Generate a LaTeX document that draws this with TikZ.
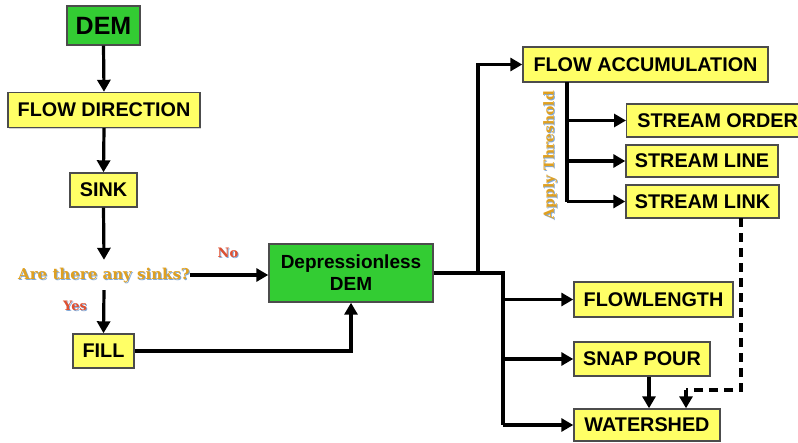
\documentclass[tikz,border=0pt]{standalone}
\usepackage{fontspec}
\setmainfont{Liberation Sans}
\newfontfamily\qfont{DejaVu Serif}
\usetikzlibrary{arrows.meta,shadows,calc}
\definecolor{boxyellow}{HTML}{FFFF66}
\definecolor{boxgreen}{HTML}{33CC33}
\definecolor{qorange}{HTML}{E0A020}
\definecolor{lred}{HTML}{E05030}
\definecolor{shblue}{HTML}{7FA8D8}
\tikzset{
  box/.style={draw=black!70, line width=1.4pt, fill=boxyellow, inner sep=0pt,
    font=\bfseries\fontsize{19.8pt}{22pt}\selectfont,
    drop shadow={shadow xshift=1.2pt, shadow yshift=-1.2pt, fill=black!35}},
  gbox/.style={box, fill=boxgreen},
  conn/.style={line width=3.2pt, -{Triangle[length=12pt,width=13pt]}},
  plain/.style={line width=3.2pt},
  qtext/.style={font=\qfont\bfseries\fontsize{15pt}{17pt}\selectfont, inner sep=0pt},
  lab/.style={qtext, font=\qfont\bfseries\fontsize{13pt}{15pt}\selectfont},
}
\begin{document}
\begin{tikzpicture}[x=1pt,y=-1pt]
\useasboundingbox (0,0) rectangle (798,442);
% nodes
\node[gbox, minimum width=73pt, minimum height=39pt, font=\bfseries\fontsize{25pt}{27pt}\selectfont] (dem) at (103.5,25.5) {DEM};
\node[box, minimum width=192pt, minimum height=35pt] (fd) at (104,110) {FLOW DIRECTION};
\node[box, minimum width=67pt, minimum height=34pt] (sink) at (103.5,190) {SINK};
\node[qtext, text=shblue] (qs) at (105,276) {Are there any sinks?};
\node[qtext, text=qorange, minimum height=30pt] (q) at (104,275) {Are there any sinks?};
\node[box, minimum width=61pt, minimum height=34pt] (fill) at (103.5,351) {FILL};
\node[gbox, minimum width=164pt, minimum height=58pt, align=center, font=\bfseries\fontsize{19pt}{22pt}\selectfont] (dd) at (351,273) {Depressionless\\DEM};
\node[box, minimum width=245pt, minimum height=35pt] (fa) at (645.5,64.5) {FLOW ACCUMULATION};
\node[box, minimum width=174pt, minimum height=33pt, anchor=west] (so) at (626,120.5) {\hspace*{8pt}STREAM ORDER\hfill};
\node[box, minimum width=152pt, minimum height=32pt] (sl) at (702,161) {STREAM LINE};
\node[box, minimum width=153pt, minimum height=33pt] (slk) at (702.5,201.5) {STREAM LINK};
\node[box, minimum width=159pt, minimum height=35pt] (fl) at (653.5,299.5) {FLOWLENGTH};
\node[box, minimum width=136pt, minimum height=34pt] (sp) at (642,359) {SNAP POUR};
\node[box, minimum width=146pt, minimum height=32pt] (ws) at (647,425) {WATERSHED};
% labels
\node[lab, text=shblue] (nos) at (229,254) {No};
\node[lab, text=lred] (no) at (228,253) {No};
\node[lab, text=shblue] (yess) at (76,307) {Yes};
\node[lab, text=lred] (yes) at (75,306) {Yes};
\node[lab, font=\qfont\bfseries\fontsize{14pt}{16pt}\selectfont, text=shblue, rotate=90] (ats) at (551,156) {Apply Threshold};
\node[lab, font=\qfont\bfseries\fontsize{14pt}{16pt}\selectfont, text=qorange, rotate=90] (at) at (550,155) {Apply Threshold};
% coordinates
\coordinate (j1) at (478,273);
\coordinate (j2) at (503,273);
\coordinate (fab) at (567,82);
\coordinate (fae) at (567,201.5);
\coordinate (d1) at (741,218);
\coordinate (d2) at (741,390);
\coordinate (d3) at (686,390);
% connectors
\draw[conn] (dem.south) -- (fd.north);
\draw[conn] (fd.south) -- (sink.north);
\draw[conn] (sink.south) -- (q.north);
\draw[conn] (q.south) -- (fill.north);
\draw[conn] (q.east) -- (q.east -| dd.west);
\draw[conn] (fill.east) -| (dd.south);
\draw[plain] (dd.east |- j1) -- (j1) -- (j2) -- (j2 |- ws.west);
\draw[conn] (j1) |- (fa.west);
\draw[conn] (j2 |- fl.west) -- (fl.west);
\draw[conn] (j2 |- sp.west) -- (sp.west);
\draw[conn] (j2 |- ws.west) -- (ws.west);
\draw[plain] (fab) -- (fae);
\draw[conn] (fab |- so.west) -- (so.west);
\draw[conn] (fab |- sl.west) -- (sl.west);
\draw[conn] (fae) -- (slk.west);
\draw[line width=3.2pt, dash pattern=on 9pt off 6pt] (d1) -- (d2) -- (d3);
\draw[conn] (d3) -- (d3 |- ws.north);
\draw[conn] (sp.south -| 649,0) -- (ws.north -| 649,0);
\end{tikzpicture}
\end{document}
